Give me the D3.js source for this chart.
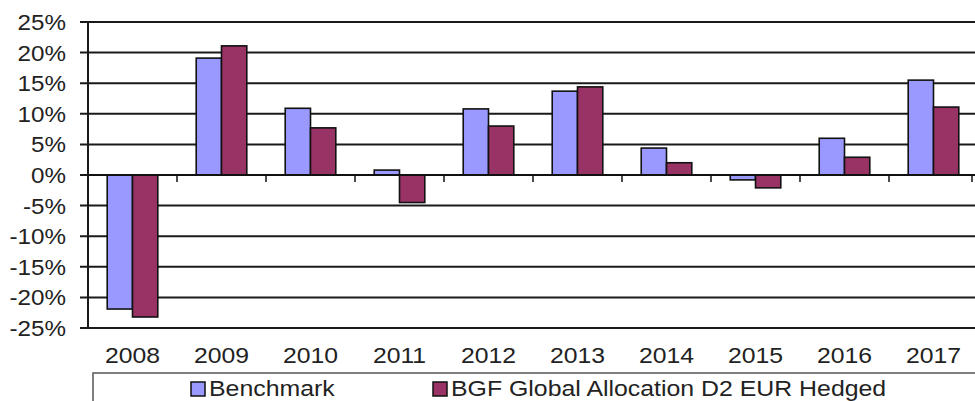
<!DOCTYPE html>
<html><head><meta charset="utf-8">
<script src="https://cdn.jsdelivr.net/npm/d3@7"></script>
<style>body{margin:0;background:#fff}svg{display:block}</style>
</head><body>
<svg id="c" width="975" height="401"></svg>
<script>
const years = ["2008","2009","2010","2011","2012","2013","2014","2015","2016","2017"];
const benchmark = [-21.9, 19.1, 10.9, 0.8, 10.8, 13.7, 4.4, -0.8, 6.0, 15.5];
const fund = [-23.2, 21.1, 7.7, -4.5, 8.0, 14.4, 2.0, -2.1, 2.9, 11.1];
const seriesNames = ["Benchmark", "BGF Global Allocation D2 EUR Hedged"];
const yTicks = [25, 20, 15, 10, 5, 0, -5, -10, -15, -20, -25];
const colors = ["#9999FF", "#993366"];

(function(){
const svg = d3.select("#c");
const font = "Arial, 'Liberation Sans', sans-serif";
const pLeft = 88, pRight = 978, pTop = 22, pBottom = 328;
const sx = 1.1;
const x = d3.scaleBand().domain(years).range([pLeft, pRight]).paddingInner(0).paddingOuter(0);
const y = d3.scaleLinear().domain([-25, 25]).range([pBottom, pTop]);
const inner = d3.scaleBand().domain([0,1]).range([0, x.bandwidth()]).paddingOuter(0.76).paddingInner(0);

// gridlines
svg.append("g").selectAll("line").data(yTicks).join("line")
  .attr("x1", pLeft - 8).attr("x2", 975)
  .attr("y1", d => y(d)).attr("y2", d => y(d))
  .attr("stroke", "#1a1a1a").attr("stroke-width", 2);

// y axis labels
svg.append("g").selectAll("text").data(yTicks).join("text")
  .attr("transform", d => `translate(66,${y(d)}) scale(${sx},1)`)
  .attr("dy", "0.36em")
  .attr("text-anchor", "end").attr("font-family", font).attr("font-size", 22).attr("fill", "#222")
  .text(d => d + "%");

// bars
const data = years.map((yr, i) => ({yr, vals: [benchmark[i], fund[i]]}));
const g = svg.append("g").selectAll("g").data(data).join("g")
  .attr("transform", d => `translate(${x(d.yr)},0)`);
g.selectAll("rect").data(d => d.vals.map((v, k) => ({v, k}))).join("rect")
  .attr("x", d => inner(d.k)).attr("width", inner.bandwidth())
  .attr("y", d => Math.min(y(d.v), y(0)))
  .attr("height", d => Math.abs(y(d.v) - y(0)))
  .attr("fill", d => colors[d.k]).attr("stroke", "#111").attr("stroke-width", 1.6);

// zero axis line and ticks
svg.append("line").attr("x1", pLeft).attr("x2", 975).attr("y1", y(0)).attr("y2", y(0))
  .attr("stroke", "#111").attr("stroke-width", 2);
svg.append("g").selectAll("line").data(years.map(d => x(d))).join("line")
  .attr("x1", d => d).attr("x2", d => d).attr("y1", y(0)).attr("y2", y(0) + 7)
  .attr("stroke", "#111").attr("stroke-width", 1.5);
svg.append("line").attr("x1", 975 - 3).attr("x2", 975 - 3).attr("y1", y(0)).attr("y2", y(0) + 7)
  .attr("stroke", "#111").attr("stroke-width", 1.5);

// y axis line
svg.append("line").attr("x1", pLeft).attr("x2", pLeft).attr("y1", pTop).attr("y2", pBottom)
  .attr("stroke", "#1a1a1a").attr("stroke-width", 2);

// x labels
svg.append("g").selectAll("text").data(years).join("text")
  .attr("transform", d => `translate(${x(d) + x.bandwidth() / 2},363) scale(${sx},1)`)
  .attr("text-anchor", "middle").attr("font-family", font).attr("font-size", 22.5).attr("fill", "#222")
  .text(d => d);

// legend
svg.append("path").attr("d", "M93,405 L93,373 L980,373").attr("fill", "none")
  .attr("stroke", "#555").attr("stroke-width", 1.5);
const legX = [191, 433];
const lg = svg.append("g").selectAll("g").data(seriesNames).join("g")
  .attr("transform", (d, i) => `translate(${legX[i]},0)`);
lg.append("rect").attr("x", 0).attr("y", 382).attr("width", 14).attr("height", 14)
  .attr("fill", (d, i) => colors[i]).attr("stroke", "#111").attr("stroke-width", 1.5);
lg.append("text").attr("transform", "translate(18,396) scale(1.13,1)")
  .attr("font-family", font).attr("font-size", 22)
  .attr("fill", "#222").text(d => d);
})();
</script>
</body></html>
